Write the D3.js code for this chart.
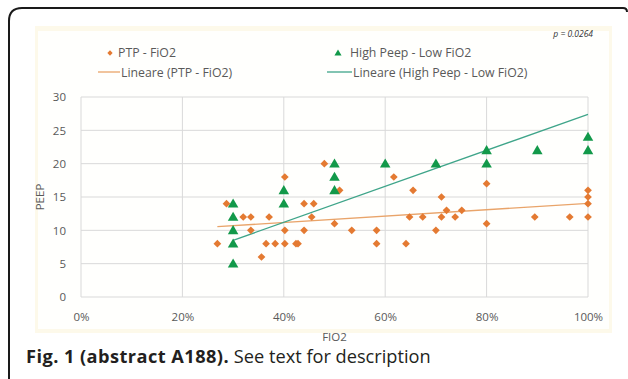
<!DOCTYPE html>
<html><head><meta charset="utf-8">
<script src="https://cdn.jsdelivr.net/npm/d3@7"></script>
<style>body{margin:0;background:#fff}svg{display:block}</style>
</head><body><svg id="c" width="628" height="379"></svg>
<script>
// FiO2 (%) and PEEP values
const ptpFiO2 = [26.9,28.7,32,33.5,33.5,35.6,36.5,37.1,38.3,40.2,40.2,40.2,42.4,42.8,44,44,45.9,45.5,48,50,51,53.4,58.3,58.3,61.7,64.1,65.5,64.8,67.4,70,71.1,71.1,72.1,73.8,75.1,80,80,89.5,96.4,100,100,100,100];
const ptpPEEP  = [8,14,12,12,10,6,8,12,8,18,10,8,8,8,10,14,14,12,20,11,16,10,10,8,18,8,16,12,12,10,15,12,13,12,13,17,11,12,12,16,15,14,12];
const hpFiO2 = [30,30,30,30,30,40,40,50,50,50,60,70,80,80,90,100,100];
const hpPEEP = [14,12,10,8,5,16,14,20,18,16,20,20,22,20,22,24,22];
// linear trend lines (endpoints)
const ptpTrendX = [26.9,100], ptpTrendY = [10.55,14.05];
const hpTrendX = [30,100], hpTrendY = [8.5,27.4];
const xTicks = [0,20,40,60,80,100];
const yTicks = [0,5,10,15,20,25,30];
const legendLabels = ["PTP - FiO2","Lineare (PTP - FiO2)","High Peep - Low FiO2","Lineare (High Peep - Low FiO2)"];

const svg = d3.select("#c");
const font = "'Open Sans', 'Noto Sans', sans-serif";
const gray = "#595959";
const orange = "#E47A32", green = "#12994A";
const orangeLine = "#E9A46A", greenLine = "#3FA58A";

// outer frame
svg.append("path").attr("d","M9,379 V21 Q9,8 22,8 H623 Q627,8 627,12")
  .attr("fill","none").attr("stroke","#1a1a1a").attr("stroke-width",2);

// chart area
svg.append("rect").attr("x",35).attr("y",26).attr("width",577).attr("height",307).attr("fill","#fdf9ea");
svg.append("rect").attr("x",38).attr("y",31).attr("width",571).attr("height",298).attr("fill","#fffffd");

const x = d3.scaleLinear().domain([0,100]).range([81,588]);
const y = d3.scaleLinear().domain([0,30]).range([297,97]);

// gridlines
svg.append("g").selectAll("line").data(yTicks).join("line")
  .attr("x1",81).attr("x2",588).attr("y1",d=>y(d)).attr("y2",d=>y(d))
  .attr("stroke","#d9d9d9").attr("stroke-width",1);
svg.append("g").selectAll("line").data(xTicks).join("line")
  .attr("y1",97).attr("y2",297).attr("x1",d=>x(d)).attr("x2",d=>x(d))
  .attr("stroke","#d9d9d9").attr("stroke-width",1);

// axes labels via d3 axes
const xAxis = svg.append("g").attr("transform","translate(0,297)")
  .call(d3.axisBottom(x).tickValues(xTicks).tickFormat(d=>d+"%").tickSize(0).tickPadding(16));
const yAxis = svg.append("g").attr("transform","translate(81,0)")
  .call(d3.axisLeft(y).tickValues(yTicks).tickSize(0).tickPadding(15));
[xAxis,yAxis].forEach(a=>{a.select(".domain").remove();
  a.selectAll("text").attr("fill",gray).attr("font-family",font).attr("font-size",11.5);});

svg.append("text").attr("x",334.5).attr("y",341).attr("text-anchor","middle")
  .attr("font-family",font).attr("font-size",11.5).attr("fill",gray).text("FIO2");
svg.append("text").attr("transform","translate(44,197) rotate(-90)").attr("text-anchor","middle")
  .attr("font-family",font).attr("font-size",11.5).attr("fill",gray).text("PEEP");

// trend lines
const ln = d3.line().x(d=>x(d[0])).y(d=>y(d[1]));
svg.append("path").attr("d",ln(d3.zip(ptpTrendX,ptpTrendY))).attr("stroke",orangeLine).attr("stroke-width",1.3).attr("fill","none");
svg.append("path").attr("d",ln(d3.zip(hpTrendX,hpTrendY))).attr("stroke",greenLine).attr("stroke-width",1.3).attr("fill","none");

// points
const diamond = d3.symbol().type(d3.symbolSquare).size(30)();
const tri = d3.symbol().type(d3.symbolTriangle).size(48)();
svg.append("g").selectAll("path").data(d3.zip(ptpFiO2,ptpPEEP)).join("path")
  .attr("d",diamond).attr("fill",orange)
  .attr("transform",d=>`translate(${x(d[0])},${y(d[1])}) rotate(45)`);
svg.append("g").selectAll("path").data(d3.zip(hpFiO2,hpPEEP)).join("path")
  .attr("d",tri).attr("fill",green)
  .attr("transform",d=>`translate(${x(d[0])},${y(d[1])+0.8})`);

// legend
const lg = svg.append("g").attr("font-family",font).attr("font-size",12.3).attr("fill",gray);
lg.append("path").attr("d",d3.symbol().type(d3.symbolSquare).size(14)()).attr("fill",orange).attr("transform","translate(110,53) rotate(45)");
lg.append("text").attr("x",118).attr("y",57).text(legendLabels[0]);
lg.append("line").attr("x1",98).attr("x2",120).attr("y1",72).attr("y2",72).attr("stroke",orangeLine).attr("stroke-width",1.3);
lg.append("text").attr("x",121).attr("y",76.5).text(legendLabels[1]);
lg.append("path").attr("d",d3.symbol().type(d3.symbolTriangle).size(22)()).attr("fill",green).attr("transform","translate(338,53.5)");
lg.append("text").attr("x",350).attr("y",57).text(legendLabels[2]);
lg.append("line").attr("x1",327).attr("x2",352).attr("y1",72).attr("y2",72).attr("stroke",greenLine).attr("stroke-width",1.3);
lg.append("text").attr("x",353).attr("y",76.5).text(legendLabels[3]);

svg.append("text").attr("x",593).attr("y",37).attr("text-anchor","end").attr("font-family",font)
  .attr("font-size",8.5).attr("font-style","italic").attr("fill","#333").text("p = 0.0264");

// caption
const cap = svg.append("text").attr("x",26).attr("y",363).attr("font-family",font).attr("font-size",18.2).attr("fill","#231f20");
cap.append("tspan").attr("font-weight","bold").attr("letter-spacing",0.45).text("Fig. 1 (abstract A188).");
cap.append("tspan").text(" See text for description");
</script></body></html>
